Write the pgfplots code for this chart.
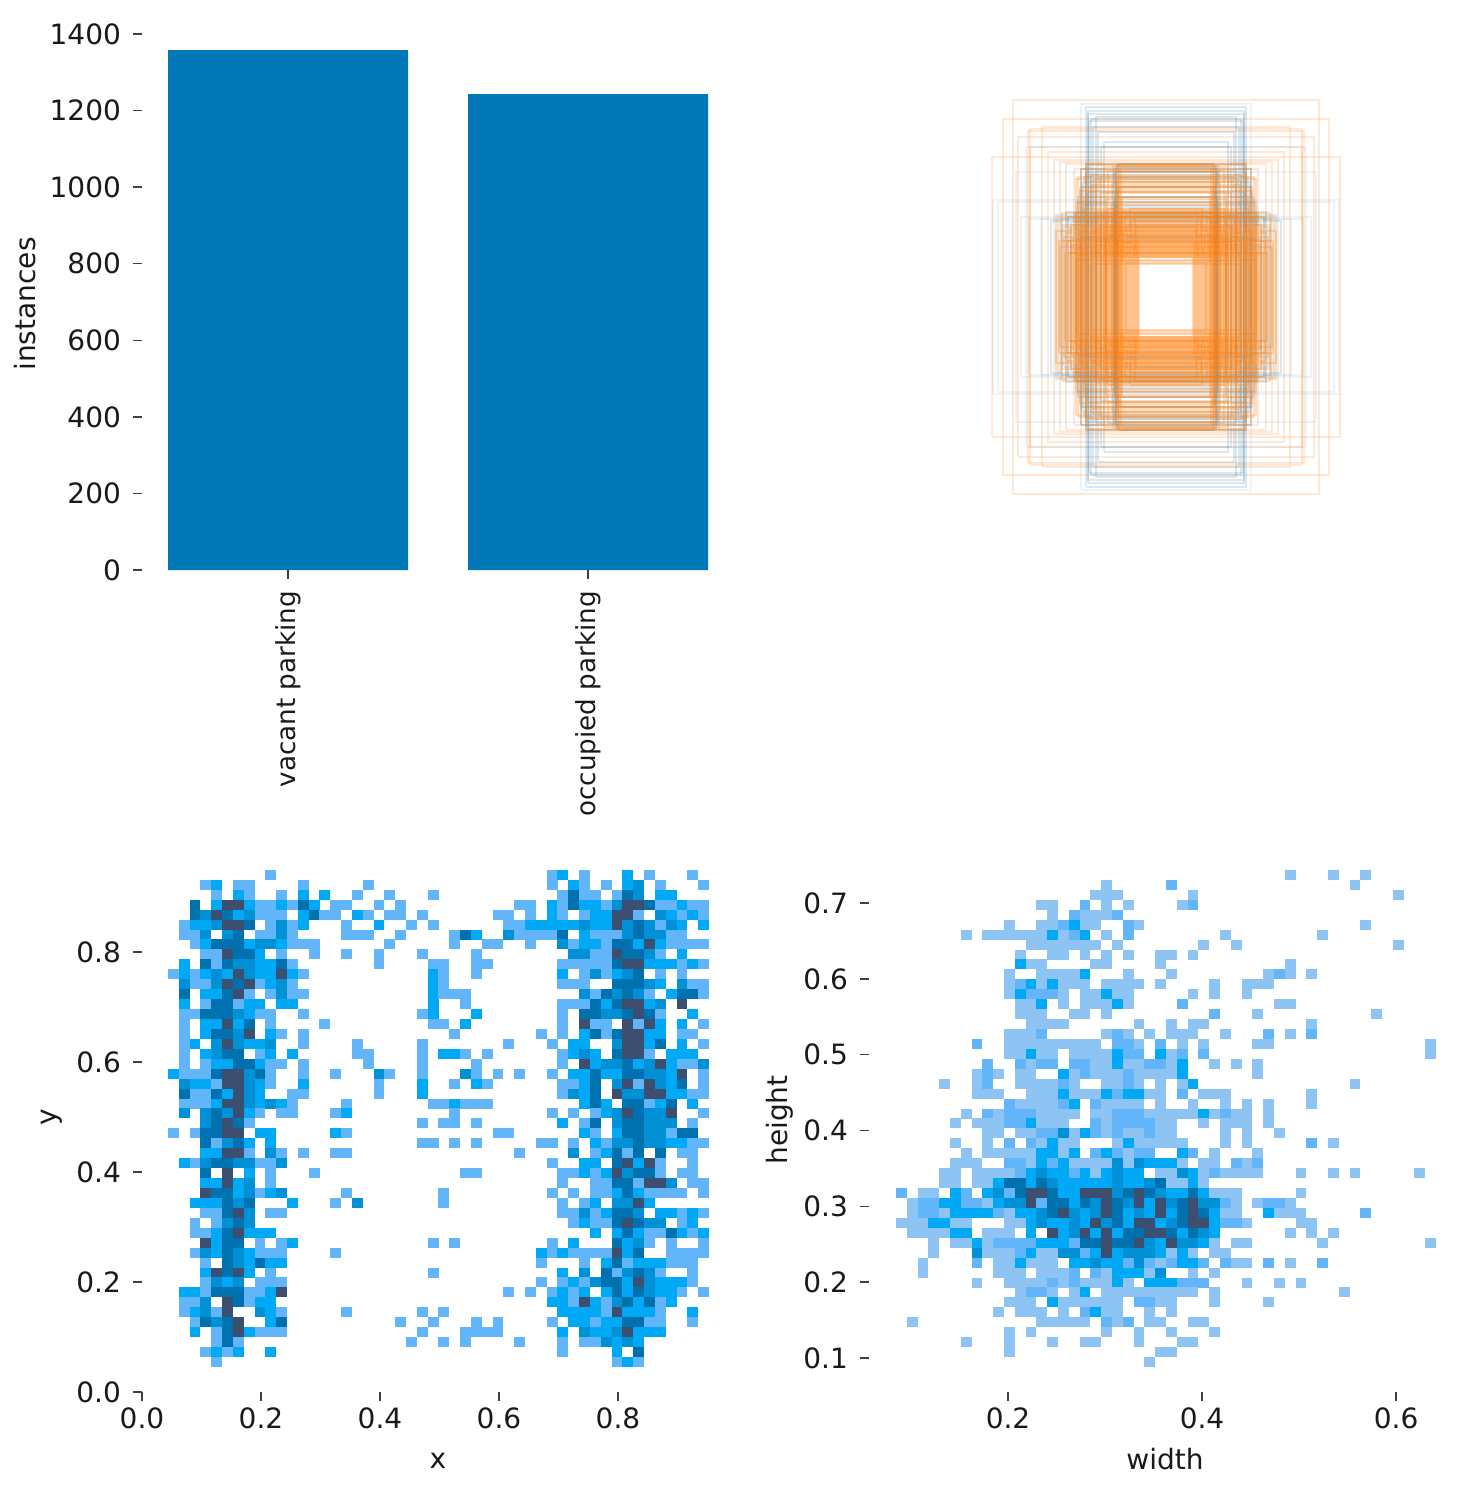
\documentclass[border=0pt]{standalone}
\usepackage{fontspec}
\setmainfont{DejaVu Sans}
\usepackage{pgfplots}
\pgfplotsset{compat=1.18}
\definecolor{barblue}{HTML}{0077B6}
\definecolor{hp}{HTML}{8EC4F4}
\definecolor{hl}{HTML}{62B5F8}
\definecolor{hb}{HTML}{00A9F6}
\definecolor{hm}{HTML}{0090D6}
\definecolor{hd}{HTML}{0071AF}
\definecolor{hk}{HTML}{3D4F70}
\definecolor{boxo}{HTML}{FF7F0E}
\definecolor{boxb}{HTML}{1F77B4}
\newcommand\fs{\fontsize{14}{16}\selectfont}
\pgfdeclareplotmark{hmcell}{\pgfpathrectangle{\pgfpoint{-2.72pt}{-2.5pt}}{\pgfpoint{5.44pt}{5pt}}\pgfusepathqfill}
\pgfplotsset{
  panel/.style={scale only axis, axis line style={draw=none}, xtick pos=bottom, ytick pos=left,
    tick align=outside, major tick length=4.5pt, tick style={draw=black!75, line width=0.7pt},
    tick label style={font=\fs, text=black!90},
    /pgf/number format/assume math mode=true},
  onedec/.style={/pgf/number format/fixed, /pgf/number format/fixed zerofill, /pgf/number format/precision=1},
  hmplot/.style={scatter, only marks, mark=hmcell, point meta=y,
    visualization depends on={value \thisrowno{2} \as \cellshade},
    scatter/@pre marker code/.code={\scope[fill=h\cellshade]},
    scatter/@post marker code/.code={\endscope}},
}
\newcommand\rectO[2]{\addplot[boxo, opacity=0.27, line width=0.75pt, no markers] coordinates {(-#1,-#2)(#1,-#2)(#1,#2)(-#1,#2)(-#1,-#2)};}
\newcommand\rectB[2]{\addplot[boxb, opacity=0.17, line width=0.75pt, no markers] coordinates {(-#1,-#2)(#1,-#2)(#1,#2)(-#1,#2)(-#1,-#2)};}
\newcommand\paleO[2]{\addplot[boxo, opacity=0.17, line width=0.7pt, no markers] coordinates {(-#1,-#2)(#1,-#2)(#1,#2)(-#1,#2)(-#1,-#2)};}
\newcommand\paleB[2]{\addplot[boxb, opacity=0.08, line width=0.8pt, no markers] coordinates {(-#1,-#2)(#1,-#2)(#1,#2)(-#1,#2)(-#1,-#2)};}
\begin{document}
\begin{tikzpicture}
\path[use as bounding box] (0,0) rectangle (728.5pt,-746pt);

% class counts
\begin{axis}[panel, at={(71pt,-285pt)}, anchor=south west, width=283.5pt, height=268pt,
    xmin=-0.4867, xmax=1.403, ymin=0, ymax=1400, ytick={0,200,...,1400},
    /pgf/number format/1000 sep={}, xtick={0,1}, xticklabels={vacant parking, occupied parking},
    x tick label style={yshift=-2.5pt, rotate=90, anchor=east, font=\fontsize{13.1}{15}\selectfont}, y tick label style={xshift=-2.5pt},
    every axis y label/.style={at={(rel axis cs:0,0.5)}, xshift=-58.5pt, yshift=-1pt, rotate=90, anchor=center, font=\fs, text=black!90},
    ylabel={instances}, ybar, bar width=0.8]
\addplot[fill=barblue, draw=none] coordinates {(0,1358) (1,1243)};
\end{axis}

% box overlay, half width and half height in picture units
\begin{axis}[at={(583pt,-148.5pt)}, anchor=center, scale only axis, width=200pt, height=200pt,
    xmin=-200, xmax=200, ymin=-200, ymax=200, hide axis, clip=false]
\paleO{153}{197}\paleO{163}{178}\paleO{174}{140}\paleO{136}{168}\paleO{138}{166}\paleO{148}{160}\paleO{124}{170}\paleO{136}{150}
\paleO{118}{145}\paleO{112}{137}\paleO{106}{135}\paleO{100}{133}\paleO{92}{128}
\paleB{85}{193}\paleB{173}{97}\paleB{145}{80}\paleB{137}{78}\paleB{125}{78}\paleB{150}{125}\paleB{140}{150}\paleB{168}{95}
\rectB{78}{183}\rectB{70}{180}\rectB{62}{155}
\rectB{50}{130}\rectB{51}{128}\rectB{52}{125}\rectB{50}{120}\rectB{49}{110}\rectB{51}{100}\rectB{52}{90}\rectB{50}{85}\rectB{48}{133}\rectB{53}{131}
\rectB{80}{125}\rectB{82}{120}\rectB{84}{115}\rectB{86}{110}\rectB{78}{105}\rectB{88}{100}\rectB{85}{128}\rectB{90}{95}\rectB{75}{122}\rectB{72}{118}\rectB{83}{92}\rectB{80}{133}
\rectB{75}{178}\rectB{77}{176}\rectB{73}{170}\rectB{68}{165}\rectB{65}{150}\rectB{78}{186}\rectB{80}{190}
\rectB{100}{85}\rectB{98}{80}\rectB{95}{75}\rectB{102}{70}\rectB{105}{78}\rectB{110}{82}\rectB{115}{76}\rectB{90}{84}\rectB{70}{82}\rectB{60}{80}
\rectB{60}{62}\rectB{70}{55}\rectB{85}{60}\rectB{95}{58}\rectB{65}{70}
\rectO{88}{120}\rectO{84}{110}\rectO{80}{133}\rectO{47}{133}\rectO{45}{130}\rectO{50}{125}\rectO{48}{118}
\rectO{46}{110}\rectO{44}{100}\rectO{52}{95}\rectO{60}{105}\rectO{70}{115}
\rectO{55}{92}\rectO{60}{98}\rectO{65}{104}\rectO{70}{110}\rectO{75}{116}\rectO{80}{122}\rectO{85}{128}\rectO{50}{132}
\rectO{58}{126}\rectO{66}{120}\rectO{74}{112}\rectO{82}{100}\rectO{88}{94}\rectO{48}{108}\rectO{54}{114}\rectO{62}{130}
\rectO{70}{126}\rectO{78}{132}\rectO{86}{106}\rectO{90}{118}
\rectO{102}{60}\rectO{104}{72}\rectO{106}{50}\rectO{108}{80}\rectO{110}{66}\rectO{104}{84}\rectO{107}{56}\rectO{101}{44}
\rectO{27}{40}\rectO{28}{58}\rectO{29}{46}\rectO{30}{70}\rectO{31}{84}\rectO{32}{52}\rectO{33}{64}\rectO{34}{42}
\rectO{35}{76}\rectO{36}{88}\rectO{37}{48}\rectO{38}{60}\rectO{39}{72}\rectO{40}{44}\rectO{41}{82}\rectO{42}{54}
\rectO{43}{66}\rectO{44}{86}\rectO{45}{50}\rectO{46}{78}\rectO{47}{40}\rectO{48}{62}\rectO{49}{74}\rectO{50}{56}
\rectO{51}{68}\rectO{52}{84}\rectO{53}{44}\rectO{54}{80}\rectO{55}{50}\rectO{56}{70}\rectO{57}{60}\rectO{58}{88}
\rectO{59}{46}\rectO{60}{76}\rectO{61}{54}\rectO{62}{66}\rectO{63}{42}\rectO{64}{84}\rectO{65}{58}\rectO{66}{72}
\rectO{67}{48}\rectO{68}{80}\rectO{69}{62}\rectO{70}{52}\rectO{71}{86}\rectO{72}{68}\rectO{73}{44}\rectO{74}{78}
\rectO{75}{56}\rectO{76}{64}\rectO{77}{40}\rectO{78}{82}\rectO{79}{50}\rectO{80}{74}\rectO{81}{60}\rectO{82}{88}
\rectO{83}{46}\rectO{84}{70}\rectO{85}{54}\rectO{86}{66}\rectO{87}{80}\rectO{88}{42}\rectO{89}{58}\rectO{90}{76}
\rectO{91}{48}\rectO{92}{84}\rectO{93}{62}\rectO{94}{52}\rectO{95}{72}\rectO{96}{68}\rectO{97}{44}\rectO{98}{80}
\rectO{99}{56}\rectO{100}{64}\rectO{40}{34}\rectO{60}{36}\rectO{75}{33}\rectO{90}{37}
\end{axis}

% x against y, bin column, bin row from the top, shade
\begin{axis}[panel, onedec, at={(71pt,-696pt)}, anchor=south west, width=283.5pt, height=261pt,
    xmin=0, xmax=0.953, ymin=0, ymax=0.949, xtick={0,0.2,...,0.8}, ytick={0,0.2,...,0.8},
    y tick label style={xshift=-2.5pt},
    every axis x label/.style={at={(rel axis cs:0,0)}, xshift=148pt, yshift=-34.5pt, anchor=center, font=\fs, text=black!90},
    every axis y label/.style={at={(rel axis cs:0,0)}, xshift=-45pt, yshift=137.5pt, rotate=90, anchor=center, font=\fs, text=black!90},
    xlabel={x}, ylabel={y}]
\addplot[hmplot] table[row sep=crcr, x expr=0.0528+0.018185*\thisrowno{0}, y expr=0.9401-0.018073*\thisrowno{1}] {
5 0 l\\9 0 l\\35 0 l\\36 0 b\\38 0 l\\42 0 b\\44 0 l\\48 0 l\\
3 1 l\\4 1 b\\6 1 l\\7 1 l\\12 1 l\\18 1 l\\35 1 l\\37 1 b\\38 1 l\\40 1 l\\42 1 b\\43 1 m\\45 1 l\\49 1 l\\
4 2 l\\6 2 b\\7 2 l\\10 2 l\\12 2 b\\14 2 b\\17 2 l\\20 2 l\\24 2 l\\36 2 l\\37 2 d\\38 2 l\\39 2 l\\41 2 l\\42 2 d\\43 2 m\\45 2 b\\46 2 b\\
2 3 d\\4 3 b\\5 3 k\\6 3 k\\7 3 b\\8 3 l\\9 3 l\\10 3 b\\11 3 l\\12 3 d\\13 3 b\\15 3 l\\16 3 l\\19 3 l\\21 3 l\\32 3 l\\33 3 l\\35 3 b\\36 3 l\\37 3 d\\38 3 b\\39 3 b\\40 3 l\\41 3 m\\42 3 k\\43 3 k\\44 3 d\\45 3 l\\46 3 l\\47 3 b\\48 3 l\\49 3 l\\
2 4 d\\3 4 m\\4 4 k\\5 4 d\\6 4 b\\7 4 m\\8 4 l\\9 4 l\\10 4 l\\12 4 b\\13 4 d\\14 4 l\\15 4 l\\17 4 b\\18 4 l\\20 4 l\\21 4 l\\23 4 l\\30 4 l\\31 4 l\\33 4 l\\35 4 b\\36 4 l\\38 4 l\\39 4 b\\40 4 b\\41 4 k\\42 4 k\\43 4 l\\45 4 m\\46 4 b\\47 4 l\\48 4 b\\49 4 l\\
1 5 l\\2 5 b\\3 5 b\\4 5 m\\5 5 k\\6 5 k\\7 5 d\\9 5 l\\10 5 m\\11 5 l\\12 5 b\\16 5 l\\19 5 b\\22 5 l\\24 5 l\\31 5 l\\32 5 l\\33 5 b\\34 5 b\\35 5 b\\36 5 b\\37 5 b\\38 5 m\\39 5 b\\40 5 b\\41 5 k\\42 5 m\\43 5 d\\44 5 m\\45 5 l\\46 5 m\\47 5 b\\49 5 b\\
1 6 l\\2 6 l\\3 6 m\\5 6 m\\6 6 d\\8 6 l\\9 6 l\\10 6 m\\11 6 l\\16 6 l\\17 6 l\\18 6 l\\21 6 l\\26 6 l\\27 6 d\\28 6 b\\31 6 m\\32 6 l\\33 6 l\\34 6 l\\35 6 l\\36 6 d\\38 6 b\\39 6 l\\40 6 l\\41 6 l\\42 6 m\\43 6 d\\44 6 m\\45 6 m\\46 6 l\\47 6 l\\
2 7 l\\3 7 b\\4 7 d\\5 7 d\\6 7 d\\7 7 b\\8 7 m\\9 7 m\\10 7 b\\11 7 l\\12 7 l\\13 7 l\\20 7 l\\26 7 l\\29 7 l\\30 7 l\\33 7 l\\36 7 m\\37 7 l\\38 7 b\\39 7 b\\40 7 l\\41 7 d\\42 7 d\\43 7 b\\44 7 k\\45 7 b\\46 7 l\\47 7 l\\48 7 l\\49 7 l\\
3 8 l\\4 8 l\\5 8 k\\6 8 d\\7 8 d\\8 8 b\\10 8 l\\13 8 l\\16 8 l\\19 8 l\\23 8 l\\28 8 l\\37 8 m\\38 8 m\\39 8 l\\40 8 l\\41 8 k\\42 8 d\\43 8 d\\44 8 m\\45 8 l\\47 8 b\\
1 9 b\\3 9 d\\4 9 l\\5 9 d\\6 9 m\\7 9 m\\8 9 b\\9 9 b\\10 9 d\\11 9 l\\19 9 l\\24 9 l\\25 9 l\\28 9 l\\29 9 l\\36 9 l\\37 9 l\\38 9 l\\39 9 l\\40 9 l\\41 9 d\\42 9 k\\43 9 k\\44 9 b\\45 9 b\\46 9 b\\47 9 l\\48 9 b\\49 9 l\\
0 10 l\\1 10 b\\2 10 l\\3 10 b\\4 10 m\\5 10 b\\6 10 k\\7 10 m\\8 10 b\\9 10 b\\10 10 k\\11 10 b\\12 10 l\\24 10 b\\25 10 l\\28 10 l\\36 10 b\\38 10 l\\39 10 m\\40 10 l\\41 10 b\\42 10 m\\43 10 d\\45 10 l\\47 10 l\\
1 11 m\\2 11 l\\3 11 l\\4 11 m\\5 11 k\\6 11 d\\7 11 k\\8 11 l\\9 11 b\\10 11 m\\11 11 l\\24 11 b\\25 11 l\\36 11 l\\37 11 l\\38 11 l\\41 11 d\\42 11 d\\43 11 d\\44 11 m\\45 11 b\\47 11 m\\48 11 l\\49 11 l\\
1 12 d\\3 12 b\\4 12 b\\5 12 d\\6 12 k\\7 12 l\\9 12 l\\10 12 m\\11 12 l\\12 12 l\\24 12 b\\25 12 l\\26 12 l\\27 12 l\\38 12 m\\39 12 l\\40 12 d\\41 12 m\\42 12 d\\43 12 m\\44 12 l\\46 12 b\\47 12 d\\48 12 d\\49 12 l\\
1 13 b\\3 13 l\\4 13 d\\5 13 d\\6 13 l\\7 13 b\\8 13 b\\10 13 b\\11 13 b\\24 13 b\\27 13 l\\36 13 l\\37 13 l\\38 13 l\\39 13 d\\40 13 b\\41 13 d\\42 13 k\\43 13 k\\44 13 b\\45 13 m\\47 13 k\\
1 14 l\\2 14 l\\3 14 d\\4 14 d\\5 14 d\\6 14 m\\7 14 b\\8 14 l\\9 14 l\\12 14 l\\23 14 l\\24 14 b\\28 14 b\\36 14 l\\38 14 d\\39 14 d\\40 14 m\\41 14 m\\42 14 d\\43 14 k\\44 14 d\\45 14 l\\48 14 b\\
1 15 l\\3 15 b\\4 15 b\\5 15 k\\6 15 b\\7 15 d\\9 15 l\\14 15 l\\24 15 l\\25 15 l\\27 15 b\\36 15 l\\38 15 k\\39 15 l\\40 15 l\\42 15 k\\43 15 l\\44 15 k\\45 15 b\\47 15 b\\49 15 l\\
1 16 l\\3 16 b\\4 16 d\\5 16 d\\6 16 m\\7 16 k\\9 16 b\\10 16 l\\12 16 l\\26 16 l\\34 16 l\\36 16 l\\38 16 b\\39 16 d\\40 16 l\\41 16 d\\42 16 k\\43 16 k\\44 16 b\\45 16 b\\47 16 l\\48 16 l\\
1 17 l\\2 17 b\\4 17 m\\5 17 k\\6 17 m\\7 17 b\\8 17 b\\9 17 m\\12 17 l\\17 17 l\\23 17 l\\31 17 l\\35 17 l\\37 17 b\\38 17 b\\41 17 m\\42 17 k\\43 17 k\\44 17 b\\45 17 d\\47 17 b\\49 17 l\\
1 18 l\\3 18 b\\4 18 m\\5 18 d\\6 18 d\\8 18 l\\9 18 b\\11 18 b\\17 18 l\\18 18 l\\23 18 l\\25 18 b\\26 18 b\\27 18 l\\29 18 l\\36 18 l\\37 18 b\\38 18 m\\39 18 b\\41 18 d\\42 18 k\\43 18 k\\44 18 l\\46 18 b\\47 18 b\\48 18 b\\
1 19 l\\3 19 l\\4 19 b\\5 19 b\\6 19 d\\7 19 d\\8 19 b\\9 19 l\\10 19 l\\12 19 l\\18 19 l\\23 19 l\\28 19 l\\36 19 l\\38 19 k\\39 19 b\\40 19 m\\41 19 m\\42 19 d\\43 19 b\\44 19 m\\45 19 k\\46 19 b\\47 19 l\\48 19 l\\49 19 m\\
0 20 b\\1 20 l\\2 20 l\\3 20 l\\4 20 d\\5 20 k\\6 20 k\\7 20 m\\8 20 d\\9 20 l\\12 20 l\\15 20 l\\19 20 m\\20 20 l\\23 20 l\\27 20 m\\28 20 l\\30 20 l\\32 20 l\\35 20 l\\37 20 b\\38 20 b\\39 20 d\\40 20 b\\41 20 b\\42 20 d\\43 20 d\\44 20 m\\45 20 m\\46 20 b\\47 20 k\\49 20 l\\
1 21 m\\2 21 b\\3 21 b\\4 21 l\\5 21 k\\6 21 k\\7 21 m\\8 21 b\\9 21 l\\12 21 b\\19 21 l\\23 21 b\\26 21 l\\28 21 b\\29 21 l\\36 21 l\\37 21 l\\38 21 b\\39 21 d\\41 21 m\\42 21 k\\43 21 l\\44 21 k\\45 21 m\\46 21 b\\47 21 d\\49 21 l\\
1 22 d\\2 22 l\\3 22 l\\4 22 d\\5 22 b\\6 22 k\\7 22 m\\8 22 b\\11 22 l\\12 22 l\\19 22 l\\23 22 b\\36 22 l\\37 22 m\\38 22 b\\39 22 d\\41 22 k\\42 22 m\\43 22 m\\44 22 k\\45 22 k\\46 22 b\\47 22 b\\48 22 l\\49 22 l\\
1 23 l\\2 23 l\\3 23 l\\4 23 b\\5 23 k\\6 23 k\\7 23 m\\8 23 b\\9 23 m\\10 23 b\\11 23 l\\16 23 l\\24 23 l\\25 23 l\\26 23 b\\27 23 l\\28 23 l\\29 23 l\\38 23 b\\39 23 d\\40 23 b\\42 23 d\\43 23 d\\44 23 l\\45 23 b\\46 23 d\\48 23 b\\
1 24 m\\3 24 m\\4 24 d\\5 24 m\\6 24 k\\7 24 b\\8 24 l\\10 24 l\\11 24 l\\15 24 l\\16 24 b\\26 24 l\\35 24 l\\37 24 l\\39 24 l\\40 24 b\\41 24 m\\42 24 k\\43 24 d\\44 24 m\\45 24 m\\46 24 k\\49 24 l\\
3 25 m\\4 25 d\\5 25 k\\6 25 d\\7 25 l\\23 25 l\\25 25 l\\26 25 l\\28 25 l\\36 25 b\\38 25 l\\39 25 d\\41 25 m\\42 25 d\\43 25 d\\44 25 m\\45 25 m\\46 25 m\\48 25 l\\
0 26 l\\2 26 l\\3 26 d\\4 26 d\\5 26 k\\6 26 k\\8 26 b\\9 26 b\\15 26 b\\16 26 l\\30 26 l\\31 26 l\\38 26 b\\39 26 l\\41 26 b\\42 26 d\\43 26 d\\44 26 m\\45 26 m\\46 26 l\\47 26 d\\48 26 d\\
3 27 d\\4 27 l\\5 27 m\\6 27 d\\7 27 b\\9 27 b\\23 27 l\\24 27 l\\26 27 l\\28 27 l\\34 27 l\\35 27 l\\37 27 l\\39 27 b\\40 27 l\\41 27 m\\42 27 m\\43 27 d\\44 27 m\\45 27 m\\46 27 b\\47 27 b\\48 27 l\\49 27 l\\
3 28 b\\4 28 b\\5 28 k\\6 28 k\\7 28 l\\9 28 m\\10 28 l\\12 28 l\\15 28 l\\16 28 l\\32 28 l\\37 28 m\\39 28 l\\40 28 b\\41 28 d\\42 28 l\\43 28 d\\45 28 d\\47 28 l\\48 28 l\\
1 29 b\\2 29 l\\3 29 m\\4 29 d\\5 29 d\\6 29 m\\7 29 m\\8 29 l\\9 29 l\\10 29 m\\35 29 l\\38 29 b\\39 29 b\\41 29 d\\42 29 k\\43 29 b\\44 29 k\\45 29 l\\48 29 l\\
3 30 d\\5 30 k\\7 30 b\\9 30 l\\13 30 l\\27 30 l\\28 30 l\\36 30 l\\37 30 l\\38 30 b\\39 30 l\\40 30 b\\41 30 k\\42 30 m\\43 30 d\\44 30 d\\45 30 l\\47 30 l\\48 30 l\\
3 31 b\\4 31 b\\5 31 k\\6 31 b\\7 31 m\\9 31 l\\36 31 l\\39 31 l\\40 31 l\\41 31 d\\42 31 d\\43 31 l\\44 31 k\\45 31 k\\46 31 m\\48 31 l\\49 31 l\\
3 32 k\\4 32 d\\5 32 d\\6 32 b\\7 32 m\\8 32 l\\9 32 b\\10 32 m\\16 32 l\\25 32 l\\35 32 l\\37 32 l\\39 32 l\\40 32 l\\41 32 b\\42 32 d\\43 32 b\\44 32 l\\45 32 l\\46 32 l\\47 32 l\\49 32 l\\
2 33 b\\3 33 b\\4 33 b\\5 33 d\\6 33 m\\7 33 d\\11 33 b\\15 33 l\\17 33 m\\25 33 l\\36 33 l\\38 33 l\\39 33 b\\41 33 m\\42 33 m\\43 33 k\\44 33 b\\
3 34 l\\4 34 l\\5 34 d\\6 34 k\\7 34 m\\9 34 l\\10 34 l\\36 34 l\\37 34 l\\38 34 m\\39 34 l\\40 34 b\\41 34 d\\42 34 d\\43 34 m\\45 34 b\\46 34 b\\47 34 l\\48 34 b\\49 34 l\\
2 35 l\\4 35 l\\5 35 m\\6 35 d\\7 35 m\\37 35 l\\38 35 b\\39 35 l\\40 35 l\\41 35 d\\42 35 k\\43 35 d\\44 35 m\\45 35 m\\47 35 l\\48 35 b\\
2 36 l\\3 36 l\\4 36 b\\5 36 d\\6 36 k\\7 36 b\\8 36 b\\9 36 b\\39 36 b\\41 36 b\\42 36 d\\43 36 b\\44 36 l\\45 36 l\\46 36 d\\47 36 b\\48 36 l\\49 36 b\\
3 37 k\\4 37 b\\5 37 d\\6 37 d\\8 37 l\\10 37 l\\11 37 b\\24 37 l\\26 37 l\\35 37 l\\37 37 b\\41 37 d\\42 37 b\\43 37 m\\44 37 l\\46 37 l\\49 37 l\\
2 38 l\\3 38 m\\4 38 b\\5 38 d\\6 38 m\\7 38 b\\8 38 l\\9 38 l\\10 38 l\\15 38 l\\34 38 b\\35 38 l\\36 38 b\\37 38 l\\38 38 l\\39 38 l\\40 38 l\\41 38 k\\42 38 b\\43 38 d\\46 38 l\\47 38 l\\48 38 l\\49 38 l\\
3 39 l\\5 39 d\\6 39 m\\7 39 b\\8 39 d\\9 39 b\\10 39 b\\34 39 l\\38 39 l\\40 39 b\\41 39 d\\42 39 l\\43 39 b\\44 39 b\\45 39 b\\46 39 l\\47 39 l\\48 39 l\\
3 40 b\\4 40 k\\5 40 d\\6 40 k\\7 40 b\\9 40 l\\24 40 l\\36 40 b\\38 40 m\\40 40 d\\41 40 l\\42 40 m\\43 40 d\\44 40 m\\45 40 l\\48 40 l\\
3 41 l\\4 41 m\\5 41 b\\6 41 m\\8 41 l\\9 41 l\\10 41 l\\34 41 l\\36 41 l\\37 41 b\\38 41 l\\39 41 m\\40 41 d\\41 41 d\\42 41 b\\43 41 k\\44 41 m\\45 41 b\\46 41 b\\47 41 b\\48 41 l\\
1 42 b\\2 42 b\\3 42 l\\4 42 d\\5 42 d\\6 42 d\\7 42 l\\8 42 l\\9 42 b\\10 42 k\\31 42 l\\33 42 l\\35 42 l\\36 42 b\\37 42 l\\38 42 b\\40 42 b\\41 42 d\\42 42 b\\43 42 d\\44 42 m\\45 42 b\\46 42 b\\47 42 l\\49 42 l\\
1 43 l\\2 43 l\\3 43 m\\5 43 k\\6 43 d\\7 43 l\\8 43 b\\9 43 b\\35 43 b\\36 43 b\\37 43 l\\38 43 k\\39 43 b\\40 43 l\\41 43 m\\42 43 d\\43 43 b\\44 43 d\\45 43 l\\46 43 b\\
1 44 l\\2 44 b\\3 44 m\\4 44 l\\5 44 k\\8 44 m\\9 44 b\\10 44 l\\16 44 l\\23 44 l\\25 44 l\\36 44 b\\37 44 b\\38 44 b\\39 44 b\\40 44 l\\41 44 k\\42 44 b\\43 44 b\\44 44 b\\45 44 l\\48 44 b\\
2 45 l\\3 45 d\\4 45 m\\5 45 d\\6 45 k\\9 45 b\\10 45 d\\21 45 l\\24 45 l\\28 45 l\\30 45 l\\35 45 l\\37 45 b\\38 45 b\\39 45 l\\40 45 b\\41 45 b\\42 45 d\\43 45 d\\44 45 l\\45 45 l\\48 45 l\\
2 46 b\\4 46 l\\5 46 d\\6 46 k\\7 46 b\\8 46 l\\9 46 l\\10 46 l\\23 46 l\\27 46 l\\28 46 l\\29 46 l\\30 46 l\\36 46 b\\38 46 m\\39 46 b\\40 46 b\\41 46 m\\42 46 k\\43 46 b\\44 46 b\\45 46 b\\
4 47 l\\5 47 d\\6 47 l\\22 47 l\\25 47 l\\27 47 l\\32 47 l\\36 47 l\\38 47 l\\39 47 l\\40 47 m\\41 47 b\\42 47 m\\43 47 b\\
3 48 l\\4 48 b\\5 48 l\\6 48 b\\9 48 b\\36 48 l\\41 48 b\\43 48 d\\
4 49 l\\41 49 l\\42 49 b\\43 49 l\\
};
\end{axis}

% width against height, same layout of the rows
\begin{axis}[panel, onedec, at={(434.5pt,-696pt)}, anchor=south west, width=283.5pt, height=261pt,
    xmin=0.0567, xmax=0.6412, ymin=0.0551, ymax=0.7438, xtick={0.2,0.4,0.6}, ytick={0.1,0.2,...,0.7},
    y tick label style={xshift=-2.5pt},
    every axis x label/.style={at={(rel axis cs:0,0)}, xshift=148pt, yshift=-33.5pt, anchor=center, font=\fs, text=black!90},
    every axis y label/.style={at={(rel axis cs:0,0)}, xshift=-44.5pt, yshift=136pt, rotate=90, anchor=center, font=\fs, text=black!90},
    xlabel={width}, ylabel={height}]
\addplot[hmplot] table[row sep=crcr, x expr=0.0901+0.011134*\thisrowno{0}, y expr=0.7372-0.013113*\thisrowno{1}] {
18 0 p\\36 0 p\\40 0 p\\43 0 p\\
19 1 p\\25 1 l\\42 1 p\\
18 2 p\\19 2 p\\20 2 p\\27 2 p\\46 2 p\\
13 3 p\\14 3 p\\17 3 l\\19 3 p\\21 3 p\\26 3 p\\27 3 l\\
14 4 p\\16 4 l\\17 4 p\\18 4 p\\19 4 p\\20 4 l\\
10 5 p\\13 5 p\\14 5 p\\15 5 l\\16 5 b\\17 5 p\\18 5 p\\21 5 l\\22 5 p\\43 5 p\\
6 6 p\\8 6 p\\9 6 p\\10 6 p\\11 6 p\\12 6 p\\13 6 p\\14 6 b\\15 6 p\\16 6 l\\17 6 b\\19 6 p\\21 6 l\\30 6 p\\39 6 p\\
12 7 p\\13 7 p\\14 7 p\\15 7 p\\16 7 p\\17 7 p\\18 7 p\\20 7 p\\28 7 p\\31 7 p\\46 7 p\\
11 8 p\\14 8 p\\15 8 p\\17 8 p\\19 8 p\\21 8 p\\24 8 p\\25 8 p\\27 8 p\\
11 9 b\\12 9 p\\13 9 p\\18 9 p\\19 9 p\\24 9 p\\36 9 p\\
10 10 p\\13 10 p\\14 10 p\\15 10 p\\16 10 p\\17 10 b\\21 10 p\\25 10 p\\34 10 p\\35 10 l\\36 10 p\\38 10 p\\
10 11 p\\11 11 l\\12 11 b\\13 11 p\\14 11 b\\15 11 p\\16 11 p\\17 11 p\\19 11 p\\20 11 p\\21 11 p\\22 11 p\\24 11 p\\29 11 p\\32 11 p\\33 11 p\\34 11 p\\
10 12 p\\11 12 b\\12 12 l\\13 12 l\\14 12 l\\15 12 p\\17 12 p\\18 12 p\\19 12 b\\20 12 p\\21 12 p\\27 12 p\\29 12 p\\32 12 p\\
11 13 p\\12 13 p\\13 13 b\\15 13 p\\17 13 p\\18 13 p\\19 13 p\\20 13 b\\21 13 p\\26 13 l\\35 13 p\\36 13 p\\
11 14 p\\12 14 p\\13 14 p\\16 14 p\\17 14 p\\19 14 p\\29 14 l\\33 14 p\\44 14 p\\
12 15 p\\13 15 p\\14 15 p\\15 15 p\\22 15 p\\25 15 p\\27 15 p\\28 15 p\\38 15 p\\
10 16 p\\11 16 p\\12 16 p\\13 16 l\\19 16 p\\20 16 l\\21 16 p\\23 16 p\\25 16 p\\26 16 p\\27 16 p\\30 16 p\\34 16 l\\36 16 p\\38 16 l\\
7 17 l\\10 17 p\\11 17 p\\12 17 p\\13 17 p\\14 17 p\\15 17 p\\16 17 p\\17 17 p\\18 17 p\\20 17 l\\21 17 l\\22 17 p\\24 17 l\\26 17 p\\28 17 p\\33 17 p\\34 17 p\\49 17 p\\
10 18 p\\11 18 p\\12 18 b\\13 18 p\\14 18 p\\16 18 p\\17 18 p\\18 18 p\\19 18 p\\20 18 b\\21 18 l\\22 18 l\\24 18 b\\25 18 p\\26 18 l\\28 18 l\\49 18 p\\
8 19 l\\11 19 l\\12 19 p\\13 19 l\\14 19 l\\16 19 l\\17 19 l\\18 19 p\\19 19 p\\20 19 b\\21 19 p\\22 19 p\\23 19 l\\24 19 l\\25 19 p\\26 19 b\\29 19 p\\31 19 p\\33 19 p\\
7 20 p\\8 20 l\\9 20 p\\11 20 p\\12 20 p\\15 20 b\\16 20 p\\17 20 l\\18 20 p\\19 20 p\\20 20 p\\21 20 l\\22 20 p\\23 20 p\\24 20 p\\25 20 p\\26 20 b\\33 20 p\\
4 21 p\\7 21 p\\8 21 l\\11 21 p\\12 21 p\\13 21 p\\14 21 p\\15 21 l\\16 21 p\\19 21 p\\20 21 p\\21 21 l\\22 21 p\\24 21 p\\26 21 p\\27 21 b\\42 21 p\\
7 22 p\\8 22 p\\9 22 p\\12 22 p\\13 22 p\\14 22 p\\15 22 b\\16 22 p\\17 22 p\\18 22 p\\19 22 b\\20 22 l\\21 22 b\\22 22 b\\23 22 p\\24 22 p\\26 22 l\\28 22 p\\29 22 p\\30 22 p\\38 22 p\\
10 23 l\\11 23 p\\12 23 p\\13 23 p\\14 23 p\\15 23 l\\16 23 b\\18 23 l\\19 23 p\\20 23 p\\21 23 p\\22 23 p\\24 23 p\\27 23 p\\30 23 p\\32 23 p\\34 23 p\\38 23 p\\
6 24 p\\8 24 l\\9 24 p\\10 24 l\\11 24 l\\12 24 l\\13 24 p\\14 24 p\\15 24 p\\16 24 p\\18 24 p\\19 24 p\\20 24 l\\21 24 l\\22 24 l\\23 24 p\\24 24 p\\25 24 p\\26 24 p\\27 24 p\\28 24 b\\29 24 p\\30 24 l\\31 24 p\\32 24 p\\34 24 p\\
5 25 p\\7 25 p\\8 25 p\\9 25 p\\10 25 l\\11 25 l\\12 25 b\\13 25 p\\14 25 p\\15 25 p\\18 25 l\\19 25 p\\20 25 l\\21 25 l\\22 25 l\\23 25 l\\24 25 p\\25 25 p\\28 25 p\\30 25 p\\31 25 p\\32 25 p\\34 25 p\\
8 26 p\\9 26 p\\11 26 p\\12 26 p\\13 26 l\\14 26 l\\15 26 m\\16 26 p\\17 26 b\\18 26 l\\19 26 p\\20 26 l\\21 26 p\\22 26 p\\23 26 l\\24 26 p\\25 26 p\\30 26 p\\32 26 p\\35 26 p\\
5 27 p\\8 27 p\\10 27 l\\12 27 l\\13 27 p\\14 27 b\\15 27 p\\16 27 p\\20 27 p\\21 27 b\\22 27 p\\23 27 p\\24 27 p\\25 27 p\\26 27 p\\30 27 p\\32 27 p\\38 27 l\\40 27 p\\
6 28 p\\8 28 p\\9 28 p\\10 28 p\\11 28 p\\12 28 p\\13 28 b\\14 28 b\\15 28 p\\16 28 b\\18 28 l\\19 28 b\\20 28 l\\21 28 p\\22 28 l\\23 28 l\\26 28 b\\27 28 l\\29 28 p\\33 28 p\\
5 29 p\\6 29 p\\7 29 p\\10 29 l\\11 29 l\\12 29 p\\13 29 b\\14 29 l\\15 29 b\\16 29 p\\17 29 p\\18 29 p\\19 29 p\\20 29 m\\21 29 p\\22 29 m\\23 29 b\\24 29 b\\25 29 b\\26 29 p\\28 29 p\\29 29 p\\31 29 l\\32 29 p\\33 29 l\\
4 30 p\\5 30 p\\7 30 p\\8 30 p\\9 30 p\\10 30 p\\11 30 l\\12 30 b\\13 30 m\\14 30 b\\15 30 b\\16 30 l\\17 30 b\\18 30 p\\19 30 b\\20 30 m\\21 30 b\\22 30 b\\24 30 p\\25 30 p\\26 30 m\\27 30 b\\28 30 p\\29 30 l\\30 30 p\\31 30 p\\32 30 p\\33 30 p\\37 30 p\\40 30 p\\42 30 p\\48 30 p\\
4 31 p\\5 31 p\\7 31 p\\8 31 p\\9 31 b\\10 31 d\\11 31 d\\12 31 b\\13 31 d\\14 31 m\\15 31 b\\16 31 b\\17 31 b\\18 31 b\\19 31 b\\20 31 m\\21 31 b\\22 31 b\\23 31 m\\24 31 d\\25 31 p\\26 31 p\\27 31 b\\28 31 p\\
0 32 l\\2 32 p\\3 32 p\\5 32 b\\6 32 l\\8 32 b\\9 32 m\\10 32 l\\11 32 d\\12 32 k\\13 32 k\\14 32 d\\15 32 b\\16 32 b\\17 32 k\\18 32 k\\19 32 k\\20 32 m\\21 32 d\\22 32 k\\23 32 d\\24 32 m\\25 32 b\\26 32 b\\27 32 d\\28 32 b\\29 32 p\\30 32 p\\31 32 p\\37 32 p\\
1 33 p\\2 33 l\\3 33 l\\4 33 b\\5 33 b\\6 33 l\\7 33 l\\8 33 p\\9 33 b\\10 33 m\\11 33 m\\12 33 k\\13 33 l\\14 33 d\\15 33 d\\16 33 b\\17 33 d\\18 33 m\\19 33 k\\20 33 d\\21 33 m\\22 33 k\\23 33 b\\24 33 k\\25 33 m\\26 33 d\\27 33 k\\28 33 m\\29 33 m\\30 33 l\\31 33 p\\33 33 p\\34 33 l\\35 33 l\\36 33 p\\
1 34 p\\2 34 l\\3 34 l\\4 34 p\\5 34 b\\6 34 b\\7 34 b\\8 34 b\\9 34 l\\10 34 p\\11 34 b\\12 34 b\\13 34 m\\14 34 d\\15 34 k\\16 34 m\\17 34 b\\18 34 m\\19 34 k\\20 34 d\\21 34 b\\22 34 m\\23 34 b\\24 34 k\\25 34 b\\26 34 d\\27 34 k\\28 34 d\\29 34 b\\30 34 p\\31 34 p\\34 34 b\\35 34 p\\36 34 p\\37 34 p\\43 34 l\\
0 35 p\\1 35 p\\2 35 p\\3 35 b\\4 35 b\\5 35 p\\6 35 p\\10 35 p\\11 35 p\\12 35 b\\13 35 m\\14 35 b\\15 35 b\\16 35 m\\17 35 b\\18 35 k\\19 35 m\\20 35 d\\21 35 b\\22 35 k\\23 35 k\\24 35 b\\25 35 m\\26 35 d\\27 35 k\\28 35 k\\29 35 b\\30 35 l\\31 35 l\\32 35 p\\37 35 p\\38 35 p\\
1 36 p\\2 36 p\\3 36 p\\4 36 p\\5 36 b\\6 36 b\\8 36 p\\9 36 p\\10 36 p\\12 36 b\\14 36 k\\15 36 b\\16 36 m\\17 36 k\\18 36 b\\19 36 k\\20 36 b\\21 36 d\\22 36 d\\23 36 k\\24 36 k\\25 36 d\\26 36 b\\27 36 d\\28 36 m\\29 36 b\\36 36 p\\38 36 p\\40 36 p\\
3 37 p\\5 37 p\\6 37 p\\7 37 b\\8 37 p\\9 37 l\\10 37 l\\11 37 l\\12 37 l\\13 37 b\\14 37 b\\15 37 b\\16 37 l\\17 37 d\\18 37 d\\19 37 k\\20 37 d\\21 37 d\\22 37 k\\23 37 m\\24 37 b\\25 37 k\\26 37 m\\27 37 m\\28 37 b\\29 37 p\\31 37 p\\32 37 p\\39 37 p\\49 37 p\\
3 38 p\\7 38 m\\8 38 p\\9 38 p\\10 38 p\\11 38 l\\12 38 b\\13 38 p\\14 38 p\\15 38 m\\16 38 m\\17 38 l\\18 38 b\\19 38 k\\20 38 b\\21 38 m\\22 38 m\\23 38 m\\24 38 b\\25 38 p\\26 38 b\\27 38 p\\29 38 p\\30 38 p\\
2 39 p\\7 39 l\\9 39 p\\10 39 p\\11 39 b\\12 39 p\\13 39 p\\14 39 p\\16 39 b\\17 39 b\\18 39 m\\19 39 b\\20 39 b\\21 39 l\\22 39 m\\23 39 l\\24 39 p\\25 39 l\\26 39 b\\27 39 b\\28 39 l\\30 39 l\\31 39 p\\32 39 p\\34 39 l\\36 39 p\\39 39 l\\
2 40 p\\9 40 p\\10 40 p\\11 40 p\\13 40 p\\14 40 p\\15 40 p\\16 40 l\\18 40 l\\19 40 p\\20 40 b\\21 40 b\\22 40 b\\23 40 p\\24 40 m\\27 40 p\\29 40 p\\
7 41 p\\10 41 p\\11 41 p\\12 41 p\\13 41 p\\14 41 l\\15 41 p\\16 41 l\\17 41 p\\18 41 p\\19 41 p\\20 41 b\\21 41 p\\23 41 b\\24 41 b\\25 41 b\\26 41 l\\27 41 l\\28 41 l\\32 41 p\\35 41 p\\37 41 p\\
11 42 p\\12 42 l\\13 42 l\\14 42 p\\16 42 p\\17 42 b\\19 42 p\\20 42 p\\21 42 p\\22 42 p\\23 42 p\\24 42 p\\25 42 p\\26 42 p\\27 42 p\\29 42 p\\41 42 p\\
10 43 p\\11 43 p\\12 43 p\\14 43 b\\15 43 p\\16 43 p\\17 43 p\\18 43 p\\19 43 p\\20 43 p\\22 43 l\\23 43 l\\24 43 p\\25 43 p\\29 43 p\\34 43 p\\
9 44 p\\11 44 p\\12 44 p\\13 44 p\\15 44 p\\17 44 l\\18 44 b\\19 44 p\\20 44 p\\23 44 p\\25 44 p\\
1 45 p\\13 45 p\\14 45 p\\15 45 p\\16 45 p\\17 45 p\\19 45 l\\20 45 p\\21 45 l\\23 45 p\\24 45 p\\27 45 p\\28 45 p\\
10 46 p\\12 46 p\\19 46 p\\22 46 p\\25 46 p\\29 46 p\\
6 47 p\\10 47 p\\14 47 p\\17 47 p\\18 47 p\\22 47 p\\26 47 p\\27 47 p\\
10 48 p\\24 48 p\\25 48 p\\
23 49 p\\
};
\end{axis}
\end{tikzpicture}
\end{document}
